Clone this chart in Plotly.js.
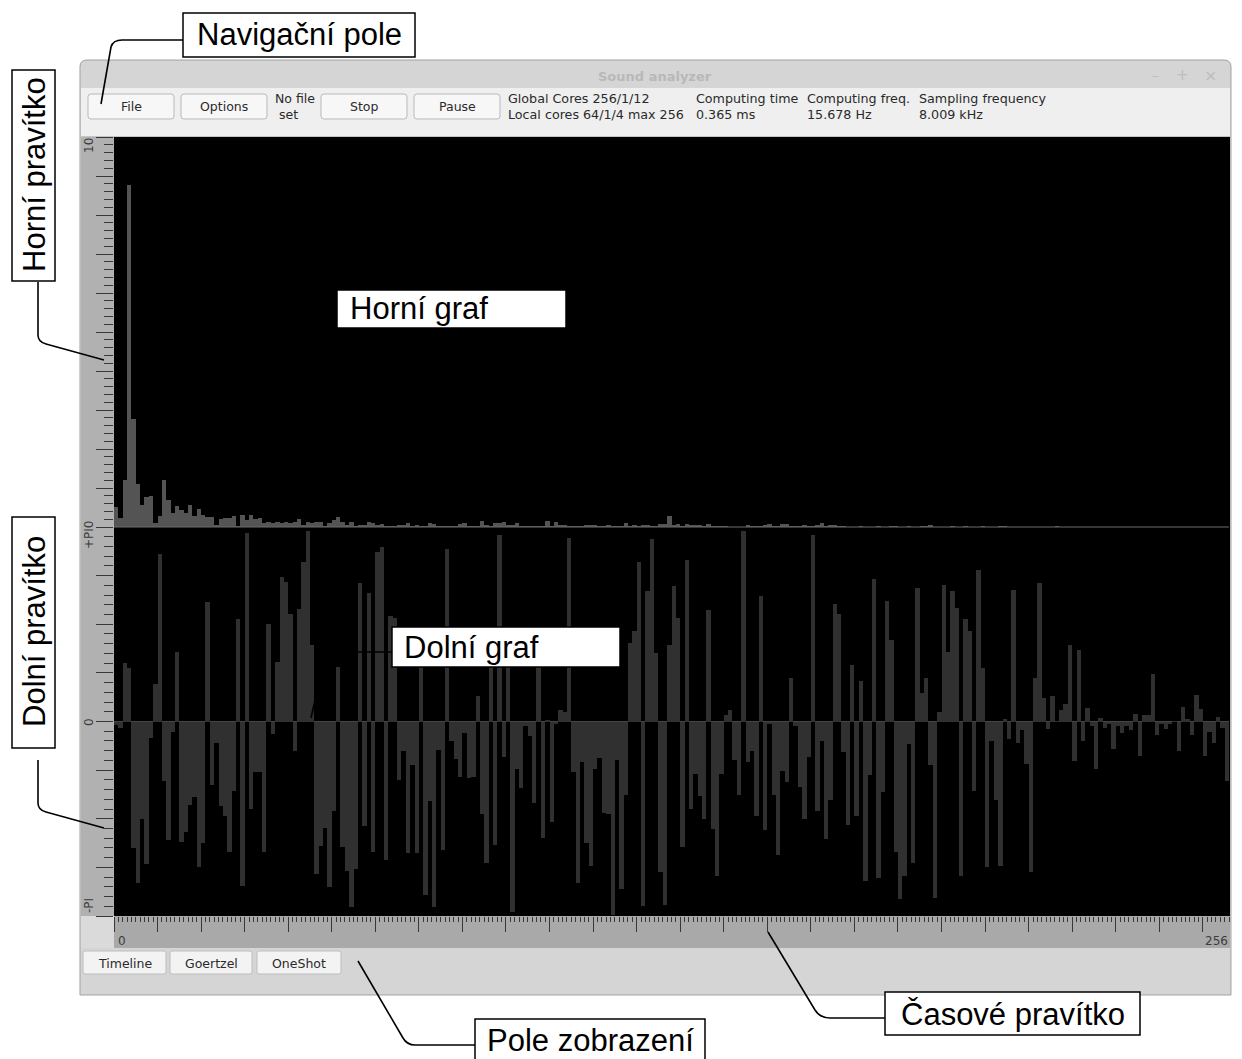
<!DOCTYPE html>
<html>
<head>
<meta charset="utf-8">
<script src="https://cdn.plot.ly/plotly-3.0.1.min.js"></script>
<style>html,body{margin:0;padding:0;background:#fff;}#chart{width:1242px;height:1059px;}</style>
</head>
<body>
<div id="chart"></div>
<script>
// ---- data: Goertzel magnitude (upper graph) and phase (lower graph) for 256 bins ----
const magnitudeValues = [
 0.51,0.23,1.21,8.78,2.77,1.11,0.57,0.77,0.79,0.09,0.29,1.21,0.70,0.36,0.54,0.44,
 0.36,0.57,0.27,0.46,0.31,0.26,0.26,0.06,0.20,0.23,0.23,0.29,0.03,0.31,0.19,0.31,
 0.20,0.23,0.09,0.12,0.09,0.12,0.09,0.12,0.09,0.12,0.20,0.06,0.14,0.09,0.14,0.12,
 0.03,0.09,0.17,0.26,0.14,0.06,0.12,0.03,0.06,0.06,0.12,0.10,0.06,0.07,0.03,0.03,
 0.03,0.04,0.04,0.09,0.03,0.06,0.03,0.03,0.11,0.07,0.03,0.02,0.02,0.02,0.02,0.07,
 0.10,0.03,0.03,0.03,0.15,0.04,0.02,0.11,0.11,0.13,0.04,0.04,0.10,0.03,0.03,0.03,
 0.03,0.03,0.03,0.15,0.03,0.13,0.06,0.06,0.03,0.03,0.02,0.02,0.04,0.04,0.04,0.02,
 0.02,0.06,0.03,0.03,0.03,0.10,0.02,0.05,0.02,0.05,0.05,0.03,0.03,0.07,0.07,0.27,
 0.04,0.07,0.02,0.07,0.05,0.05,0.05,0.03,0.07,0.03,0.03,0.02,0.02,0.01,0.01,0.01,
 0.01,0.04,0.02,0.03,0.03,0.05,0.07,0.02,0.02,0.07,0.07,0.03,0.03,0.03,0.04,0.02,
 0.03,0.04,0.10,0.02,0.04,0.04,0.03,0.03,0.01,0.01,0.01,0.02,0.01,0.00,0.00,0.03,
 0.01,0.01,0.03,0.03,0.01,0.01,0.03,0.01,0.01,0.03,0.03,0.04,0.00,0.00,0.00,0.00,
 0.03,0.00,0.00,0.03,0.00,0.00,0.00,0.03,0.00,0.00,0.00,0.03,0.03,0.00,0.00,0.00,
 0.00,0.00,0.00,0.00,0.00,0.00,0.00,0.00,0.03,0.00,0.00,0.00,0.00,0.00,0.00,0.00,
 0.00,0.00,0.00,0.00,0.00,0.00,0.00,0.00,0.00,0.00,0.00,0.00,0.00,0.00,0.00,0.00,
 0.00,0.00,0.00,0.00,0.00,0.00,0.00,0.00,0.00,0.00,0.00,0.00,0.00,0.00,0.00,0.00
];
const phaseValues = [
 -0.06,-0.11,0.95,0.86,-2.05,-2.61,-1.57,-2.30,-0.27,0.61,2.71,-0.96,-1.91,-0.17,1.12,-1.95,
 -1.78,-1.35,-1.22,-2.35,-1.97,1.93,-1.03,-0.34,-1.36,-1.52,-2.10,-1.12,1.65,-2.66,3.04,-1.42,
 -0.82,-0.81,-2.11,1.57,-0.20,0.96,2.34,2.26,1.73,-0.47,1.81,2.58,3.07,1.24,-2.46,-2.01,
 -1.72,-2.68,-1.44,0.88,-2.02,-2.41,-2.99,-2.39,2.23,-1.69,2.07,-2.11,2.73,2.82,-2.23,1.70,
 1.67,-0.95,-0.48,-2.13,-0.71,-2.13,1.24,-2.81,-1.29,-3.00,-0.46,-2.07,2.78,-0.31,-0.61,-0.89,
 -0.19,-0.92,-0.89,0.41,-1.49,-2.28,1.03,-1.99,3.01,-0.57,0.92,-3.07,-0.76,-1.07,-0.08,-0.23,
 -1.31,0.90,-1.88,0.02,-1.62,-0.04,0.19,0.16,2.97,-0.81,-2.61,-0.66,-1.96,-2.34,-0.76,-0.59,
 -1.47,-1.50,-3.13,-0.62,-2.70,-1.18,1.27,1.46,2.58,-2.98,2.11,2.95,1.11,-2.43,-2.96,1.23,
 2.19,1.67,-2.02,2.61,-1.42,-0.84,-1.21,-1.58,1.80,-1.73,-2.50,-0.85,0.10,0.19,-0.62,-1.19,
 3.07,-0.65,-0.47,-1.52,2.03,-1.76,-0.04,-1.19,-2.16,-0.80,-0.97,0.70,-0.08,-1.05,-1.58,-0.57,
 3.02,-1.45,-0.32,-1.89,-1.27,1.89,1.74,-0.50,-1.67,0.91,-1.52,0.66,-2.57,-0.87,2.30,-2.53,
 -1.14,1.94,1.32,-2.10,-2.87,-2.50,-0.37,-2.28,2.15,0.46,0.70,-0.70,-2.85,0.15,2.20,1.12,
 2.11,1.83,-2.50,1.65,1.46,-1.12,2.44,0.86,-2.35,-0.31,-1.26,-2.34,0.04,-0.28,2.12,-0.35,
 -0.14,-0.69,-2.43,0.71,2.23,0.38,-0.12,0.41,0.01,0.19,0.29,1.24,-0.64,1.15,-0.31,0.22,
 -0.08,-0.77,0.05,-0.11,-0.04,-0.44,-0.08,-0.19,-0.08,-0.14,0.12,-0.55,0.10,0.10,0.77,-0.22,
 -0.04,-0.12,-0.04,0.01,-0.47,0.23,0.04,-0.22,0.43,0.21,-0.55,-0.17,-0.34,0.07,-0.10,-0.96
];
const binCenters = magnitudeValues.map((v, i) => i + 0.5);

const magnitudeRulerLabels = ['10', 'PI0'];
const phaseRulerLabels = ['+PI0', '0', '-PI'];
const timeRulerLabels = ['0', '256'];
const windowTitle = 'Sound analyzer';
const toolbarButtons = ['File', 'Options', 'Stop', 'Pause'];
const fileStatus = ['No file', 'set'];
const infoColumns = [
  ['Global Cores 256/1/12', 'Local cores 64/1/4 max 256'],
  ['Computing time', '0.365 ms'],
  ['Computing freq.', '15.678 Hz'],
  ['Sampling frequency', '8.009 kHz']
];
const viewTabs = ['Timeline', 'Goertzel', 'OneShot'];
const calloutLabels = ['Navigační pole', 'Horní pravítko', 'Horní graf', 'Dolní pravítko', 'Dolní graf', 'Časové pravítko', 'Pole zobrazení'];

// ---- helpers (pixel -> paper) ----
const W = 1242, H = 1059;
const px = x => x / W;
const py = y => 1 - y / H;
function rect(x0, y0, x1, y1, fill, lc, lw, layer) {
  return {type: 'rect', xref: 'paper', yref: 'paper', x0: px(x0), x1: px(x1), y0: py(y1), y1: py(y0),
    fillcolor: fill, line: {color: lc || fill, width: lw === undefined ? 0 : lw}, layer: layer || 'below'};
}
function pathStr(cmds) {
  return cmds.map(c => {
    const t = c[0]; const v = c.slice(1); const out = [];
    for (let i = 0; i < v.length; i += 2) out.push(px(v[i]).toFixed(5) + ',' + py(v[i + 1]).toFixed(5));
    return t + ' ' + out.join(' ');
  }).join(' ');
}
function path(cmds, lc, lw, fill, layer) {
  return {type: 'path', xref: 'paper', yref: 'paper', path: pathStr(cmds),
    line: {color: lc, width: lw}, fillcolor: fill || 'rgba(0,0,0,0)', layer: layer || 'above'};
}
function rrect(x0, y0, x1, y1, r, fill, lc, layer) {
  return path([['M', x0 + r, y0], ['L', x1 - r, y0], ['Q', x1, y0, x1, y0 + r], ['L', x1, y1 - r], ['Q', x1, y1, x1 - r, y1],
    ['L', x0 + r, y1], ['Q', x0, y1, x0, y1 - r], ['L', x0, y0 + r], ['Q', x0, y0, x0 + r, y0], ['Z']], lc, 1, fill, layer || 'below');
}
function text(t, x, y, opts) {
  opts = opts || {};
  return Object.assign({text: t, xref: 'paper', yref: 'paper', x: px(x), y: py(y), showarrow: false,
    xanchor: 'center', yanchor: 'middle',
    font: {family: 'DejaVu Sans', size: 12, color: '#2a2a2a'}}, opts);
}

const shapes = [];
const annotations = [];

// window frame
shapes.push(path([['M', 80, 995], ['L', 80, 67], ['Q', 80, 60, 87, 60], ['L', 1224, 60], ['Q', 1231, 60, 1231, 67], ['L', 1231, 995], ['Z']], '#a2a2a2', 1, '#d5d5d5', 'below'));
shapes.push(rect(81, 88, 1230, 136, '#efefef', '#efefef', 0));
shapes.push(rect(81, 136, 1230, 137, '#c4c4c4', '#c4c4c4', 0));
// plot canvas (black)
shapes.push(rect(114, 137, 1230, 916, '#000000', '#000000', 0));
// rulers
shapes.push(rect(81, 137, 114, 916, '#b1b1b1', '#b1b1b1', 0));
shapes.push(rect(114, 916, 1230, 948, '#a9a9a9', '#a9a9a9', 0));
shapes.push(rect(81, 916, 114, 948, '#dadada', '#dadada', 0));
// toolbar buttons
const btnX = [[88, 174], [181, 267], [321, 407], [414, 500]];
btnX.forEach((b, i) => {
  shapes.push(rrect(b[0], 94, b[1], 119, 3, '#f7f7f7', '#b9b9b9'));
  annotations.push(text(toolbarButtons[i], (b[0] + b[1]) / 2, 106.5, {font: {family: 'DejaVu Sans', size: 12.5, color: '#2a2a2a'}}));
});
annotations.push(text(fileStatus[0], 273, 98, {xanchor: 'left', font: {family: 'DejaVu Sans', size: 12.5, color: '#2a2a2a'}}));
annotations.push(text(fileStatus[1], 277, 114.5, {xanchor: 'left', font: {family: 'DejaVu Sans', size: 12.5, color: '#2a2a2a'}}));
const infoX = [506, 694, 805, 917];
infoColumns.forEach((c, i) => {
  annotations.push(text(c[0], infoX[i], 98, {xanchor: 'left', font: {family: 'DejaVu Sans', size: 12.7, color: '#2a2a2a'}}));
  annotations.push(text(c[1], infoX[i], 114.5, {xanchor: 'left', font: {family: 'DejaVu Sans', size: 12.7, color: '#2a2a2a'}}));
});
// title bar
annotations.push(text(windowTitle, 655, 76, {font: {family: 'DejaVu Sans', size: 13, color: '#b8b8b8', weight: 'bold'}}));
annotations.push(text('–', 1155, 75, {font: {family: 'DejaVu Sans', size: 14, color: '#bdbdbd'}}));
annotations.push(text('+', 1182, 75, {font: {family: 'DejaVu Sans', size: 15, color: '#bdbdbd'}}));
annotations.push(text('×', 1210, 75, {font: {family: 'DejaVu Sans', size: 16, color: '#bdbdbd'}}));
// tabs
const tabX = [[83, 166], [170, 252], [257, 341]];
tabX.forEach((b, i) => {
  shapes.push(rrect(b[0], 951, b[1], 974, 2, '#f3f3f3', '#bdbdbd'));
  annotations.push(text(viewTabs[i], (b[0] + b[1]) / 2, 963, {font: {family: 'DejaVu Sans', size: 12.5, color: '#2a2a2a'}}));
});
// separator between graphs
shapes.push(rect(114, 526.5, 1229, 527.5, '#6c6c6c', '#6c6c6c', 0, 'above'));

// ruler labels
const rl = {family: 'DejaVu Sans', size: 12, color: '#3c3c3c'};
annotations.push(text(magnitudeRulerLabels[0], 89, 146, {textangle: -90, font: rl}));
annotations.push(text(phaseRulerLabels[0], 89, 535, {textangle: -90, font: rl}));
annotations.push(text(phaseRulerLabels[1], 89, 722, {textangle: -90, font: rl}));
annotations.push(text(phaseRulerLabels[2], 89, 906, {textangle: -90, font: rl}));
annotations.push(text(timeRulerLabels[0], 116, 941, {xanchor: 'left', font: rl}));
annotations.push(text(timeRulerLabels[1], 1230, 941, {xanchor: 'right', font: rl}));

// callouts
const cf = {family: 'Liberation Sans', size: 31, color: '#000'};
const boxes = [
  [183, 13, 415, 57], [12, 70, 55, 281], [337, 290, 566, 328], [12, 517, 55, 748],
  [392, 627, 620, 667], [885, 992, 1140, 1035], [475, 1019, 705, 1060]
];
boxes.forEach(b => shapes.push(rect(b[0], b[1], b[2], b[3], '#ffffff', '#000000', 1.5, 'above')));
annotations.push(text(calloutLabels[0], 299, 35, {font: cf}));
annotations.push(text(calloutLabels[1], 34, 175, {font: cf, textangle: -90}));
annotations.push(text(calloutLabels[2], 348, 309, {font: cf, xanchor: 'left'}));
annotations.push(text(calloutLabels[3], 34, 632, {font: cf, textangle: -90}));
annotations.push(text(calloutLabels[4], 402, 647, {font: cf, xanchor: 'left'}));
annotations.push(text(calloutLabels[5], 1013, 1014, {font: cf}));
annotations.push(text(calloutLabels[6], 590, 1040, {font: cf}));
const ll = 1.6;
shapes.push(path([['M', 183, 40], ['L', 122, 40], ['Q', 113, 40, 111, 47], ['L', 101, 104]], '#000', ll));
shapes.push(path([['M', 38, 282], ['L', 38, 335], ['Q', 38, 342, 46, 344], ['L', 104, 360]], '#000', ll));
shapes.push(path([['M', 337, 314], ['L', 272, 314], ['L', 257, 380]], '#000', ll));
shapes.push(path([['M', 38, 760], ['L', 38, 803], ['Q', 38, 810, 46, 812], ['L', 104, 828]], '#000', ll));
shapes.push(path([['M', 392, 652], ['L', 326, 652], ['L', 311, 718]], '#000', ll));
shapes.push(path([['M', 885, 1018], ['L', 830, 1018], ['Q', 820, 1018, 815, 1010], ['L', 768, 932]], '#000', ll));
shapes.push(path([['M', 475, 1045], ['L', 415, 1045], ['Q', 407, 1045, 403, 1038], ['L', 358, 961]], '#000', ll));

const tickCol = '#383838';
const traces = [
  {type: 'bar', x: binCenters, y: magnitudeValues, width: 1, xaxis: 'x', yaxis: 'y',
   marker: {color: '#545454', line: {width: 0}}, hoverinfo: 'skip'},
  {type: 'bar', x: binCenters, y: phaseValues, width: 1, xaxis: 'x2', yaxis: 'y2',
   marker: {color: '#303030', line: {width: 0}}, hoverinfo: 'skip'}
];
const xDom = [px(114), px(1229)];
const layout = {
  width: W, height: H, autosize: false,
  margin: {l: 0, r: 0, t: 0, b: 0, pad: 0},
  paper_bgcolor: '#ffffff', plot_bgcolor: '#000000',
  showlegend: false, bargap: 0,
  xaxis: {domain: xDom, anchor: 'y', range: [0, 256], showticklabels: false, ticks: '', showgrid: false, zeroline: false, showline: false},
  xaxis2: {domain: xDom, anchor: 'y2', range: [0, 256], showticklabels: false, ticks: 'outside', tickmode: 'linear', tick0: 0, dtick: 10,
    ticklen: 15, tickwidth: 1, tickcolor: tickCol, showgrid: false, zeroline: false, showline: false,
    minor: {ticks: 'outside', dtick: 1, tick0: 0, ticklen: 5, tickwidth: 1, tickcolor: tickCol, showgrid: false}},
  yaxis: {domain: [py(527), py(137)], anchor: 'x', range: [0, 10], showticklabels: false, ticks: 'outside', tickmode: 'linear', tick0: 0, dtick: 1,
    ticklen: 17, tickwidth: 1, tickcolor: tickCol, showgrid: false, zeroline: false, showline: false,
    minor: {ticks: 'outside', dtick: 0.2, tick0: 0, ticklen: 9, tickwidth: 1, tickcolor: tickCol, showgrid: false}},
  yaxis2: {domain: [py(916), py(527)], anchor: 'x2', range: [-Math.PI, Math.PI], showticklabels: false, ticks: 'outside', tickmode: 'linear', tick0: 0, dtick: Math.PI / 4,
    ticklen: 17, tickwidth: 1, tickcolor: tickCol, showgrid: false, zeroline: true, zerolinecolor: '#454545', zerolinewidth: 1, showline: false,
    minor: {ticks: 'outside', dtick: Math.PI / 20, tick0: 0, ticklen: 9, tickwidth: 1, tickcolor: tickCol, showgrid: false}},
  shapes: shapes,
  annotations: annotations
};
Plotly.newPlot('chart', traces, layout, {staticPlot: true, displayModeBar: false});
</script>
</body>
</html>
